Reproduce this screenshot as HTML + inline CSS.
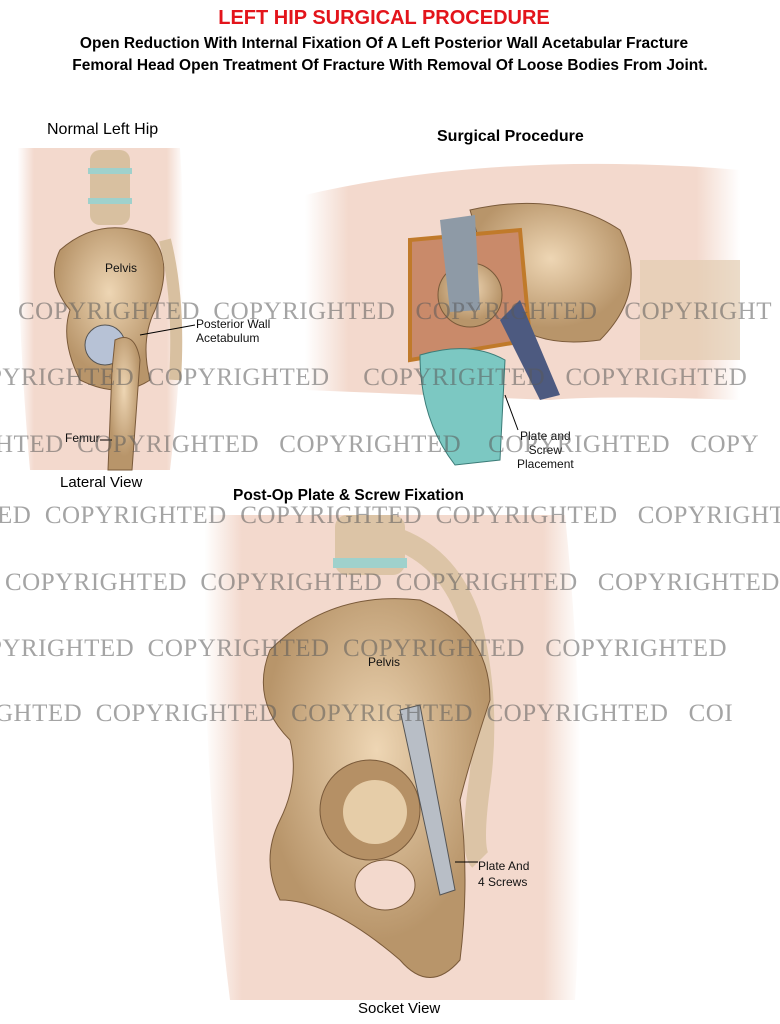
<!DOCTYPE html>
<html style="overflow:hidden;width:780px;height:1024px"><head><meta charset="utf-8"><style>
body{margin:0;width:780px;height:1024px;background:#fff;position:relative;overflow:hidden;font-family:"Liberation Sans",sans-serif}
.t{position:absolute;white-space:nowrap}
.wmw{position:absolute;left:0;top:0;width:780px;height:1024px;overflow:hidden}
.wm{position:absolute;font-family:"Liberation Serif",serif;font-size:25px;color:rgba(90,90,90,0.55);white-space:nowrap;letter-spacing:0.5px}
.lb{position:absolute;font-size:12px;color:#111;white-space:nowrap}
</style></head><body>
<div class="t" style="left:0;width:768px;text-align:center;top:7px;font-size:20px;font-weight:bold;color:#e3141b">LEFT HIP SURGICAL PROCEDURE</div>
<div class="t" style="left:0;width:768px;text-align:center;top:35px;font-size:15.5px;font-weight:bold">Open Reduction With Internal Fixation Of A Left Posterior Wall Acetabular Fracture</div>
<div class="t" style="left:0;width:780px;text-align:center;top:57px;font-size:15.5px;font-weight:bold">Femoral Head Open Treatment Of Fracture With Removal Of Loose Bodies From Joint.</div>
<div class="t" style="left:47px;top:121px;font-size:16px">Normal Left Hip</div>
<div class="t" style="left:437px;top:128px;font-size:16px;font-weight:bold">Surgical Procedure</div>
<div class="t" style="left:60px;top:474px;font-size:15px">Lateral View</div>
<div class="t" style="left:233px;top:487px;font-size:15.5px;font-weight:bold">Post-Op Plate &amp; Screw Fixation</div>
<div class="t" style="left:358px;top:1000px;font-size:15px">Socket View</div>

<svg style="position:absolute;left:0;top:0" width="780" height="1024">
<defs>
<linearGradient id="sk" x1="0" x2="1"><stop offset="0" stop-color="#fff"/><stop offset="0.1" stop-color="#f3d9cd"/><stop offset="0.9" stop-color="#f3d9cd"/><stop offset="1" stop-color="#fff"/></linearGradient>
<radialGradient id="bn" cx="0.5" cy="0.4"><stop offset="0" stop-color="#eed6b4"/><stop offset="1" stop-color="#b8956a"/></radialGradient>
</defs>
<path d="M18 148 H180 Q190 300 170 470 H30 Q15 300 18 148Z" fill="url(#sk)"/>
<rect x="90" y="150" width="40" height="75" rx="10" fill="#d8c0a0"/>
<rect x="88" y="168" width="44" height="6" fill="#9fd1cc"/><rect x="88" y="198" width="44" height="6" fill="#9fd1cc"/>
<path d="M60 250 Q100 215 150 235 Q175 260 155 310 Q140 340 150 380 Q120 400 80 380 Q60 340 70 310 Q45 280 60 250Z" fill="url(#bn)" stroke="#7a5a3a"/>
<circle cx="105" cy="345" r="20" fill="#b7c2d6" stroke="#555"/>
<path d="M115 340 Q135 330 140 360 L132 470 H108 L112 370Z" fill="url(#bn)" stroke="#7a5a3a"/>
<path d="M165 240 Q180 300 175 380" stroke="#d8c0a0" stroke-width="12" fill="none"/>
<line x1="140" y1="335" x2="195" y2="325" stroke="#000"/>
<line x1="100" y1="440" x2="112" y2="440" stroke="#000"/>
<path d="M305 195 Q500 150 740 170 V400 Q600 395 550 400 L305 390Z" fill="url(#sk)"/>
<path d="M470 210 Q560 190 620 230 Q650 290 600 340 Q530 350 500 310 Z" fill="url(#bn)" stroke="#7a5a3a"/>
<path d="M640 260 H740 V360 H640Z" fill="#e2ccb0" opacity="0.7"/>
<path d="M410 240 L520 230 L530 340 L410 360Z" fill="#c98a6a" stroke="#c07a2a" stroke-width="4"/>
<circle cx="470" cy="295" r="32" fill="url(#bn)" stroke="#7a5a3a"/>
<path d="M440 220 L475 215 L480 310 L450 312Z" fill="#8e9aa6"/>
<path d="M500 320 L520 300 L560 395 L540 400Z" fill="#4d5a80"/>
<path d="M420 355 Q470 340 505 360 L500 460 L455 465 Q420 420 420 355Z" fill="#7cc8c2" stroke="#3c7c78"/>
<line x1="505" y1="395" x2="518" y2="430" stroke="#000"/>
<path d="M205 515 H565 Q590 760 575 1000 H230 Q200 760 205 515Z" fill="url(#sk)"/>
<rect x="335" y="515" width="70" height="60" rx="12" fill="#dcc4a6"/>
<rect x="333" y="558" width="74" height="10" fill="#9fd1cc"/>
<path d="M400 540 Q450 560 470 620 Q490 700 480 780 Q470 850 480 860" stroke="#dcc4a6" stroke-width="22" fill="none"/>
<path d="M270 650 Q330 590 420 600 Q490 630 490 700 Q470 760 460 800 Q470 880 460 960 Q430 995 400 960 Q330 900 280 900 Q260 860 280 820 Q300 780 290 740 Q250 700 270 650Z" fill="url(#bn)" stroke="#7a5a3a"/>
<circle cx="370" cy="810" r="50" fill="#b59065" stroke="#7a5a3a"/>
<circle cx="375" cy="812" r="32" fill="#e6cda8"/>
<ellipse cx="385" cy="885" rx="30" ry="25" fill="#f3d9cd" stroke="#7a5a3a"/>
<path d="M400 710 L420 705 L455 890 L440 895Z" fill="#b8bec6" stroke="#555"/>
<line x1="455" y1="862" x2="478" y2="862" stroke="#000"/>
</svg>

<div class="lb" style="left:105px;top:261px">Pelvis</div>
<div class="lb" style="left:196px;top:317px;line-height:14px">Posterior Wall<br>Acetabulum</div>
<div class="lb" style="left:65px;top:431px">Femur</div>
<div class="lb" style="left:517px;top:429px;line-height:14px;text-align:center">Plate and<br>Screw<br>Placement</div>
<div class="lb" style="left:368px;top:655px">Pelvis</div>
<div class="lb" style="left:478px;top:858px;line-height:16px">Plate And<br>4 Screws</div>

<div class="wmw">
<div class="wm" style="left:18px;top:298px">COPYRIGHTED &nbsp;COPYRIGHTED &nbsp;&nbsp;COPYRIGHTED &nbsp;&nbsp;&nbsp;COPYRIGHT</div>
<div class="wm" style="left:-12px;top:364px">PYRIGHTED &nbsp;COPYRIGHTED &nbsp;&nbsp;&nbsp;&nbsp;COPYRIGHTED &nbsp;&nbsp;COPYRIGHTED</div>
<div class="wm" style="left:-5px;top:431px">HTED &nbsp;COPYRIGHTED &nbsp;&nbsp;COPYRIGHTED &nbsp;&nbsp;&nbsp;COPYRIGHTED &nbsp;&nbsp;COPY</div>
<div class="wm" style="left:-3px;top:502px">ED &nbsp;COPYRIGHTED &nbsp;COPYRIGHTED &nbsp;COPYRIGHTED &nbsp;&nbsp;COPYRIGHTED &nbsp;COPYRI</div>
<div class="wm" style="left:5px;top:569px">COPYRIGHTED &nbsp;COPYRIGHTED &nbsp;COPYRIGHTED &nbsp;&nbsp;COPYRIGHTED</div>
<div class="wm" style="left:-12px;top:635px">PYRIGHTED &nbsp;COPYRIGHTED &nbsp;COPYRIGHTED &nbsp;&nbsp;COPYRIGHTED</div>
<div class="wm" style="left:-5px;top:700px">GHTED &nbsp;COPYRIGHTED &nbsp;COPYRIGHTED &nbsp;COPYRIGHTED &nbsp;&nbsp;COI</div>
</div>
</body></html>
